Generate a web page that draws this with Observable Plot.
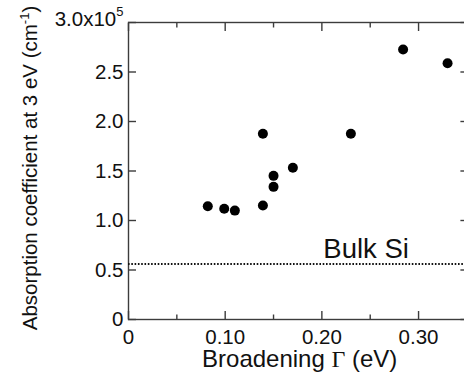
<!DOCTYPE html>
<html><head><meta charset="utf-8">
<script src="https://cdn.jsdelivr.net/npm/d3@7"></script>
<script src="https://cdn.jsdelivr.net/npm/@observablehq/plot@0.6"></script>
<style>
html,body{margin:0;padding:0;background:#fff;overflow:hidden;}
#chart{width:464px;height:388px;overflow:hidden;}
</style></head><body><div id="chart"></div>
<script>
// Data
const gamma = [0.082, 0.099, 0.110, 0.139, 0.139, 0.150, 0.150, 0.170, 0.230, 0.284, 0.330];
const alpha = [1.144, 1.118, 1.100, 1.876, 1.152, 1.451, 1.340, 1.532, 1.876, 2.727, 2.589];
const bulkSi = [0.56];
const xMajorTicks = [0, 0.1, 0.2, 0.3];
const xMinorTicks = [0.05, 0.15, 0.25];
const xTickLabels = ["0", "0.10", "0.20", "0.30"];
const yTicks = [0, 0.5, 1.0, 1.5, 2.0, 2.5, 3.0];
const yTickLabels = ["0", "0.5", "1.0", "1.5", "2.0", "2.5", "3.0x10"];
const yTopExponent = "5";
const xLabelParts = ["Broadening ", "Γ", " (eV)"];
const yLabelParts = ["Absorption coefficient at 3 eV (cm", "-1", ")"];
const bulkLabel = "Bulk Si";

const points = gamma.map((g, i) => ({gamma: g, alpha: alpha[i]}));
const ink = "#111";
const lineInk = "#3c3c3c";
const font = "'Liberation Sans', Arial, Helvetica, sans-serif";
const tickFont = 20.5;

const plot = Plot.plot({
  width: 464,
  height: 388,
  marginLeft: 128,
  marginTop: 22,
  marginBottom: 69,
  marginRight: -2.4,
  style: {fontFamily: font, fontSize: "20px", color: ink, background: "#fff", overflow: "hidden"},
  x: {domain: [0, 0.35]},
  y: {domain: [0, 3.0]},
  marks: [
    Plot.frame({stroke: lineInk, strokeWidth: 1.4}),
    // inner ticks, all four sides
    Plot.axisX({anchor: "bottom", ticks: xMajorTicks, tickSize: -8, tickFormat: () => "", label: null, stroke: lineInk, strokeWidth: 1.4}),
    Plot.axisX({anchor: "bottom", ticks: xMinorTicks, tickSize: -4.5, tickFormat: () => "", label: null, stroke: lineInk, strokeWidth: 1.4}),
    Plot.axisX({anchor: "top", ticks: xMajorTicks, tickSize: -8, tickFormat: () => "", label: null, stroke: lineInk, strokeWidth: 1.4}),
    Plot.axisX({anchor: "top", ticks: xMinorTicks, tickSize: -4.5, tickFormat: () => "", label: null, stroke: lineInk, strokeWidth: 1.4}),
    Plot.axisY({anchor: "left", ticks: yTicks, tickSize: -8, tickFormat: () => "", label: null, stroke: lineInk, strokeWidth: 1.4}),
    Plot.axisY({anchor: "right", ticks: yTicks, tickSize: -7, tickFormat: () => "", label: null, stroke: lineInk, strokeWidth: 1.4}),
    // tick labels
    Plot.axisX({anchor: "bottom", ticks: xMajorTicks, tickSize: 0, tickPadding: 10, tickFormat: d => xTickLabels[xMajorTicks.indexOf(d)], label: null, fontSize: tickFont, fill: ink}),
    Plot.axisY({anchor: "left", ticks: yTicks, tickSize: 0, tickPadding: 5, tickFormat: d => yTickLabels[yTicks.indexOf(d)], label: null, fontSize: tickFont, fill: ink}),
    // bulk Si reference
    Plot.ruleY(bulkSi, {stroke: "#111", strokeWidth: 2, strokeDasharray: "1.6,1.7"}),
    Plot.text(bulkSi, {y: d => d, text: () => bulkLabel, frameAnchor: "right", textAnchor: "end", lineAnchor: "bottom", dx: -58, dy: -6, fontSize: 27.5, fill: ink}),
    // data
    Plot.dot(points, {x: "gamma", y: "alpha", r: 5, fill: "#000", stroke: "none"}),
    // axis titles
    Plot.text([xLabelParts.join("")], {text: d => d, frameAnchor: "bottom", textAnchor: "middle", dx: 2, dy: 47, fontSize: 24, fill: ink}),
    Plot.text([yLabelParts.join("")], {text: d => d, frameAnchor: "left", textAnchor: "middle", rotate: -90, dx: -98.5, dy: -3, fontSize: 20.5, fill: ink})
  ]
});
document.getElementById("chart").appendChild(plot);

const tickLabelSet = new Set([...xTickLabels, ...yTickLabels]);

// tick label size, superscripts and the Greek Gamma
d3.select(plot).selectAll("text").each(function () {
  const s = this.textContent;
  const t = d3.select(this);
  if (tickLabelSet.has(s)) {
    t.style("font-size", tickFont + "px");
  }
  if (s === yTickLabels[yTickLabels.length - 1]) {
    t.attr("y", 3.5);
    t.append("tspan").attr("dy", -10).style("font-size", "13px").text(yTopExponent);
  } else if (s === yLabelParts.join("")) {
    t.text(yLabelParts[0]);
    t.append("tspan").attr("dy", -8).style("font-size", "13px").text(yLabelParts[1]);
    t.append("tspan").attr("dy", 8).text(yLabelParts[2]);
  } else if (s === xLabelParts.join("")) {
    t.text(xLabelParts[0]);
    t.append("tspan").attr("font-family", "'Liberation Serif', 'DejaVu Serif', serif").text(xLabelParts[1]);
    t.append("tspan").text(xLabelParts[2]);
  }
});
</script>
</body></html>
